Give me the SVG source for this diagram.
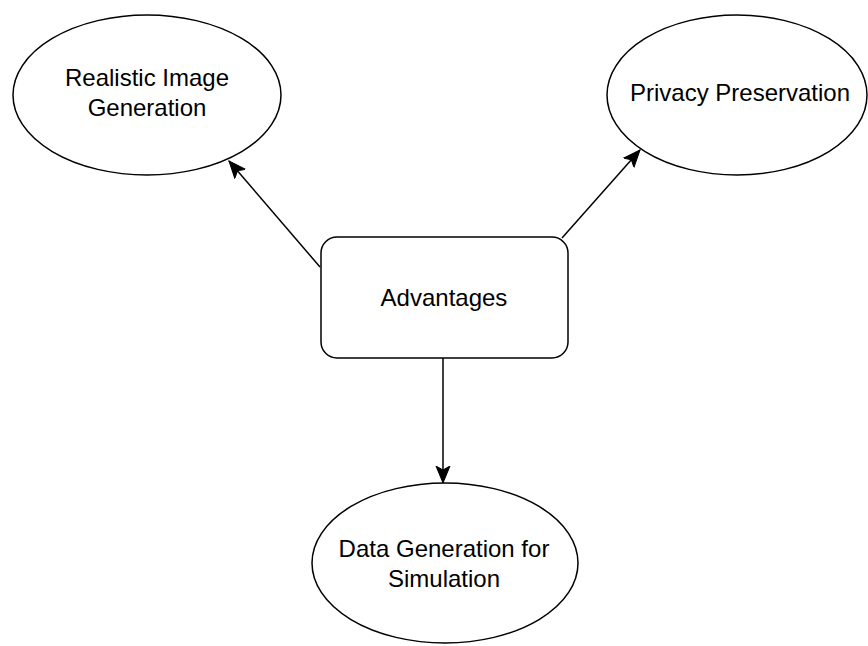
<svg xmlns="http://www.w3.org/2000/svg" width="868" height="646" viewBox="0 0 868 646">
<style>
.shape{fill:#ffffff;stroke:#000000;stroke-width:1.5}
.lbl{font-family:"Liberation Sans",Arial,Helvetica,sans-serif;font-size:24px;fill:#000000;text-anchor:middle}
.edge{fill:none;stroke:#000000;stroke-width:1.5}
</style>
<defs>
<marker id="arr" markerUnits="userSpaceOnUse" markerWidth="20" markerHeight="16" viewBox="0 -8 20 16" refX="17" refY="0" orient="auto">
<path d="M0,-7 L17,0 L0,7 L4,0 Z" fill="#000000" stroke="#000000" stroke-width="1"/>
</marker>
</defs>
<rect width="868" height="646" fill="#ffffff"/>
<g id="edges">
<line class="edge" x1="320" y1="267" x2="229" y2="161" marker-end="url(#arr)"/>
<line class="edge" x1="562" y1="238" x2="640" y2="150" marker-end="url(#arr)"/>
<line class="edge" x1="443" y1="358" x2="443" y2="483" marker-end="url(#arr)"/>
</g>
<g id="realistic">
<ellipse class="shape" cx="147" cy="95" rx="134" ry="80"/>
<text class="lbl" x="147" y="86">Realistic Image</text>
<text class="lbl" x="147" y="116">Generation</text>
</g>
<g id="privacy">
<ellipse class="shape" cx="737" cy="95" rx="130" ry="80"/>
<text class="lbl" x="740" y="101">Privacy Preservation</text>
</g>
<g id="advantages">
<rect class="shape" x="321" y="237" width="247" height="121" rx="16" ry="16"/>
<text class="lbl" x="444" y="306">Advantages</text>
</g>
<g id="datagen">
<ellipse class="shape" cx="445" cy="563" rx="133" ry="80"/>
<text class="lbl" x="444" y="557">Data Generation for</text>
<text class="lbl" x="444" y="587">Simulation</text>
</g>
</svg>
